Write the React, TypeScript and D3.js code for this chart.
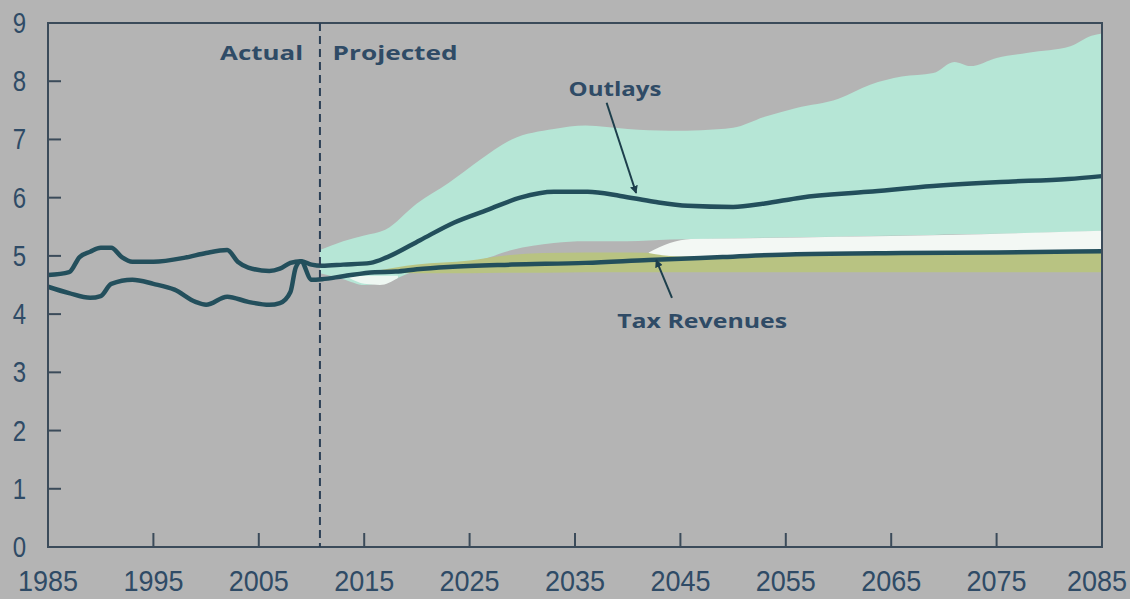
import React from "react";
import * as d3 from "d3";

// ---- data (percent of GDP) ----
const outlaysYears = [1985, 1987, 1989, 1990, 1991, 1993, 1995, 1997, 1999, 2000, 2002, 2004, 2006, 2007, 2008, 2008.5, 2009, 2010, 2011, 2013, 2015.6, 2017.2, 2020.3, 2023.5, 2026.7, 2029.8, 2033, 2036.2, 2039.3, 2042.5, 2045.7, 2050, 2053, 2056.4, 2062.8, 2069, 2075.4, 2081.8, 2085];
const outlays = [4.47, 4.36, 4.28, 4.31, 4.52, 4.59, 4.52, 4.42, 4.21, 4.16, 4.3, 4.21, 4.16, 4.19, 4.38, 4.8, 4.91, 4.85, 4.83, 4.85, 4.88, 4.98, 5.27, 5.57, 5.79, 6.0, 6.1, 6.1, 6.03, 5.93, 5.86, 5.84, 5.9, 6.0, 6.1, 6.2, 6.27, 6.32, 6.37];

const revenueYears = [1985, 1987, 1988, 1989, 1990, 1991, 1992, 1993, 1995, 1998, 2000, 2002, 2003, 2004, 2006, 2007, 2008, 2009, 2010, 2011, 2013, 2016, 2018, 2020, 2023, 2029, 2036, 2042, 2049, 2056, 2066, 2075, 2085];
const revenues = [4.67, 4.72, 4.98, 5.07, 5.14, 5.14, 4.98, 4.9, 4.9, 4.97, 5.05, 5.1, 4.9, 4.8, 4.74, 4.78, 4.88, 4.91, 4.59, 4.6, 4.65, 4.72, 4.73, 4.77, 4.81, 4.85, 4.88, 4.93, 4.98, 5.03, 5.05, 5.06, 5.08];

// outlays uncertainty range
const outBandYears = [2010.8, 2013, 2015, 2017, 2020, 2023, 2026, 2029, 2033, 2036, 2040, 2044, 2047, 2050, 2053, 2056, 2060, 2063, 2066, 2069, 2071, 2072.5, 2075, 2078, 2082, 2084, 2085];
const outBandHigh = [5.1, 5.25, 5.35, 5.45, 5.9, 6.25, 6.65, 7.0, 7.18, 7.24, 7.18, 7.15, 7.16, 7.2, 7.39, 7.54, 7.7, 7.94, 8.08, 8.14, 8.33, 8.26, 8.4, 8.49, 8.6, 8.78, 8.82];
const outBandLow = [4.7, 4.6, 4.5, 4.55, 4.75, 4.85, 4.93, 5.1, 5.22, 5.25, 5.25, 5.28, 5.29, 5.3, 5.31, 5.32, 5.33, 5.34, 5.35, 5.36, 5.37, 5.37, 5.38, 5.39, 5.41, 5.42, 5.43];

// revenue uncertainty range
const revBandYears = [2016, 2020, 2025, 2028, 2032, 2036, 2040, 2044, 2050, 2060, 2070, 2085];
const revBandLow = [4.72, 4.7, 4.7, 4.71, 4.71, 4.72, 4.72, 4.72, 4.72, 4.72, 4.72, 4.72];
const revBandHigh = [4.74, 4.85, 4.92, 5.0, 5.05, 5.06, 5.06, 5.05, 5.08, 5.1, 5.1, 5.12];

// revenue range upper part (white)
const whiteYears = [2042, 2044, 2046, 2050, 2060, 2070, 2085];
const whiteLow = [5.05, 5.0, 4.99, 5.0, 5.04, 5.05, 5.08];
const whiteHigh = [5.06, 5.22, 5.29, 5.3, 5.33, 5.36, 5.43];
const whitePatchYears = [2013.6, 2015, 2016.5, 2018.2];
const whitePatchLow = [4.62, 4.52, 4.5, 4.62];
const whitePatchHigh = [4.64, 4.66, 4.66, 4.66];

const yTicks = [0, 1, 2, 3, 4, 5, 6, 7, 8, 9];
const xTicks = [1985, 1995, 2005, 2015, 2025, 2035, 2045, 2055, 2065, 2075, 2085];
const splitYear = 2010.8;

const W = 1130;
const H = 599;
const BG = "#b4b4b4";
const TEXT = "#2f4b66";
const LINE = "#234f5c";
const AXIS = "#3b4b5a";

export default function App() {
  const x = d3.scaleLinear().domain([1985, 2085]).range([48, 1102]);
  const y = d3.scaleLinear().domain([0, 9]).range([547, 23]);

  const band = (ys: number[], lo: number[], hi: number[]) =>
    d3
      .area<number>()
      .x((_, i) => x(ys[i]))
      .y0((_, i) => y(lo[i]))
      .y1((_, i) => y(hi[i]))
      .curve(d3.curveMonotoneX)(ys) || "";

  const line = (ys: number[], vs: number[]) =>
    d3
      .line<number>()
      .x((_, i) => x(ys[i]))
      .y((d) => y(d))
      .curve(d3.curveMonotoneX)(vs) || "";

  const fontLabel = "'Open Sans', 'DejaVu Sans', sans-serif";
  const fontTick = "'Liberation Sans', Arial, sans-serif";

  return (
    <svg
      width={W}
      height={H}
      style={{ position: "absolute", left: 0, top: 0, background: BG }}
    >
      <rect x={0} y={0} width={W} height={H} fill={BG} />
      {/* bands */}
      <path d={band(outBandYears, outBandLow, outBandHigh)} fill="#b6e6d6" />
      <path d={band(revBandYears, revBandLow, revBandHigh)} fill="#b8c382" />
      <path d={band(whiteYears, whiteLow, whiteHigh)} fill="#f3f8f4" />
      <path d={band(whitePatchYears, whitePatchLow, whitePatchHigh)} fill="#eef7f2" />

      {/* lines */}
      <path d={line(revenueYears, revenues)} fill="none" stroke={LINE} strokeWidth={4.5} strokeLinejoin="round" />
      <path d={line(outlaysYears, outlays)} fill="none" stroke={LINE} strokeWidth={4.5} strokeLinejoin="round" />

      {/* frame */}
      <rect x={x(1985)} y={y(9)} width={x(2085) - x(1985)} height={y(0) - y(9)} fill="none" stroke={AXIS} strokeWidth={2} />

      {/* dashed split */}
      <line x1={x(splitYear)} x2={x(splitYear)} y1={y(9)} y2={y(0)} stroke="#2a3f55" strokeWidth={2} strokeDasharray="8 5" />

      {/* y ticks */}
      {yTicks.map((t) => (
        <g key={"y" + t}>
          {t > 0 && t < 9 && (
            <line x1={x(1985)} x2={x(1985) + 13} y1={y(t)} y2={y(t)} stroke={AXIS} strokeWidth={2} />
          )}
          <text
            transform={`translate(26,${y(t) + 10}) scale(0.8,1)`}
            textAnchor="end"
            fontFamily={fontTick}
            fontSize={30}
            fill={TEXT}
          >
            {t}
          </text>
        </g>
      ))}

      {/* x ticks */}
      {xTicks.map((t, i) => {
        const last = i === xTicks.length - 1;
        return (
          <g key={"x" + t}>
            {t > 1985 && t < 2085 && (
              <line x1={x(t)} x2={x(t)} y1={y(0)} y2={y(0) - 14} stroke={AXIS} strokeWidth={2} />
            )}
            <text
              transform={`translate(${last ? W - 3 : x(t)},591) scale(0.9,1)`}
              textAnchor={last ? "end" : "middle"}
              fontFamily={fontTick}
              fontSize={30}
              fill={TEXT}
            >
              {t}
            </text>
          </g>
        );
      })}

      {/* labels */}
      <text x={x(2009.2)} y={y(8.37)} textAnchor="end" fontFamily={fontLabel} fontWeight={700} fontSize={19} fill={TEXT} textLength={83} lengthAdjust="spacingAndGlyphs">
        Actual
      </text>
      <text x={x(2012.0)} y={y(8.37)} textAnchor="start" fontFamily={fontLabel} fontWeight={700} fontSize={19} fill={TEXT} textLength={125} lengthAdjust="spacingAndGlyphs">
        Projected
      </text>

      <defs>
        <marker id="ah" viewBox="0 0 10 10" refX={9} refY={5} markerWidth={4} markerHeight={4} orient="auto">
          <path d="M0,0 L10,5 L0,10 z" fill="#1d3f4c" />
        </marker>
      </defs>

      <text x={x(2038.8)} y={y(7.75)} textAnchor="middle" fontFamily={fontLabel} fontWeight={700} fontSize={19} fill={TEXT} textLength={93} lengthAdjust="spacingAndGlyphs">
        Outlays
      </text>
      <line x1={x(2038.0)} y1={y(7.63)} x2={x(2040.8)} y2={y(6.08)} stroke="#1d3f4c" strokeWidth={2} markerEnd="url(#ah)" />

      <text x={x(2039.0)} y={y(3.76)} textAnchor="start" fontFamily={fontLabel} fontWeight={700} fontSize={19} fill={TEXT} textLength={170} lengthAdjust="spacingAndGlyphs">
        Tax Revenues
      </text>
      <line x1={x(2044.2)} y1={y(4.28)} x2={x(2042.7)} y2={y(4.93)} stroke="#1d3f4c" strokeWidth={2} markerEnd="url(#ah)" />
    </svg>
  );
}
